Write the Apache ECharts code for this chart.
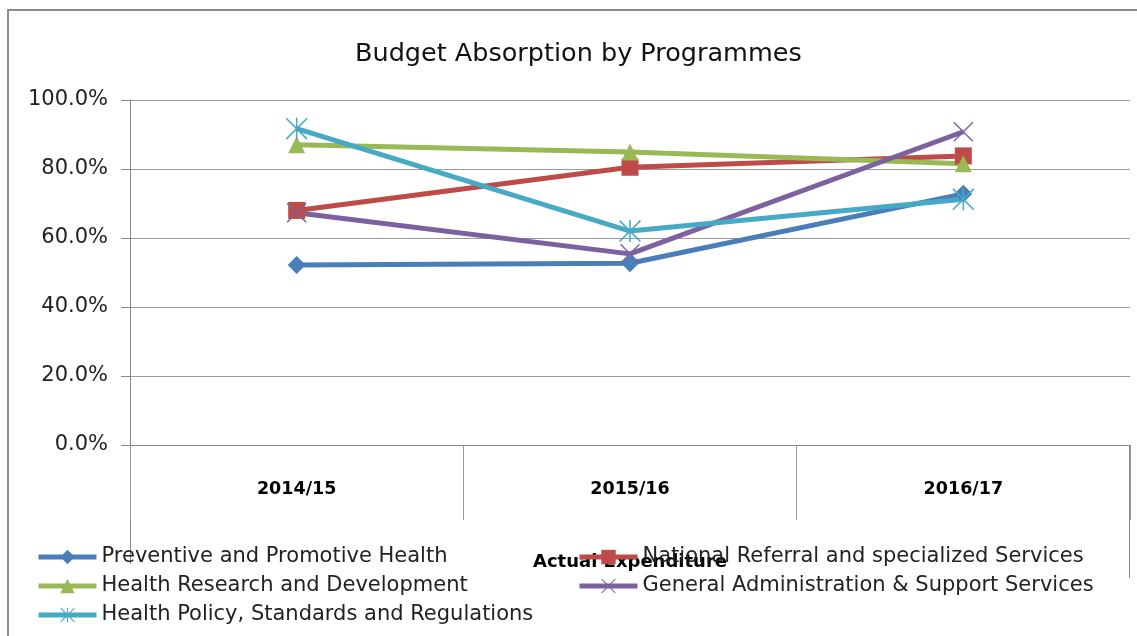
<!DOCTYPE html>
<html>
<head>
<meta charset="utf-8">
<script src="https://cdn.jsdelivr.net/npm/echarts@6/dist/echarts.min.js"></script>
<style>
  html, body { margin: 0; padding: 0; background: #fff; }
  #main { width: 1137px; height: 636px; }
</style>
</head>
<body>
<div id="main"></div>
<script>
var years = ['2014/15', '2015/16', '2016/17'];
var preventive = [0.522, 0.527, 0.728];
var referral = [0.680, 0.805, 0.838];
var research = [0.870, 0.849, 0.815];
var admin = [0.673, 0.554, 0.908];
var policy = [0.917, 0.620, 0.712];

var FONT = 'DejaVu Sans';
var crossPath = 'path://M0,1 L1,0 L20,19 L19,20 Z M19,0 L20,1 L1,20 L0,19 Z';
var starPath = 'path://M9.3,0 L10.7,0 L10.7,20 L9.3,20 Z M0,1 L1,0 L20,19 L19,20 Z M19,0 L20,1 L1,20 L0,19 Z';

function line(name, data, color, symbol, size) {
    return {
        name: name,
        type: 'line',
        data: data,
        symbol: symbol,
        symbolSize: size,
        color: color,
        lineStyle: { width: 5, color: color },
        itemStyle: { color: color },
        emphasis: { disabled: true }
    };
}

var legendBase = {
    orient: 'vertical',
    top: 545,
    padding: 0,
    itemWidth: 58,
    itemHeight: 18,
    itemGap: 5,
    lineStyle: { width: 5 },
    textStyle: { fontFamily: FONT, fontSize: 21, color: '#222', lineHeight: 24 }
};

var myChart = echarts.init(document.getElementById('main'));
var option = {
    animation: false,
    textStyle: { fontFamily: FONT },
    title: {
        text: 'Budget Absorption by Programmes',
        left: 350,
        top: 36,
        textStyle: { fontFamily: FONT, fontSize: 25.5, fontWeight: 'normal', color: '#111' }
    },
    grid: { left: 130, right: 7, top: 100, bottom: 191 },
    legend: [
        Object.assign({}, legendBase, {
            left: 36,
            data: ['Preventive and Promotive Health', 'Health Research and Development', 'Health Policy, Standards and Regulations']
        }),
        Object.assign({}, legendBase, {
            left: 577,
            data: ['National Referral and specialized Services', 'General Administration & Support Services']
        })
    ],
    xAxis: {
        type: 'category',
        data: years,
        boundaryGap: true,
        name: 'Actual Expenditure',
        nameLocation: 'middle',
        nameGap: 108,
        nameTextStyle: { fontFamily: FONT, fontSize: 18, fontWeight: 'bold', color: '#000' },
        axisLine: { lineStyle: { color: '#888', width: 1 } },
        axisTick: { show: true, length: 75, lineStyle: { color: '#999' } },
        axisLabel: { margin: 35, fontFamily: FONT, fontSize: 17.5, fontWeight: 'bold', color: '#000' },
        splitLine: { show: false }
    },
    yAxis: {
        type: 'value',
        min: 0,
        max: 1,
        interval: 0.2,
        axisLine: { show: true, lineStyle: { color: '#888', width: 1 } },
        axisTick: { show: true, length: 9, lineStyle: { color: '#888' } },
        axisLabel: {
            margin: 22,
            fontFamily: FONT,
            fontSize: 21,
            color: '#222',
            formatter: function (v) { return (v * 100).toFixed(1) + '%'; }
        },
        splitLine: { lineStyle: { color: '#999', width: 1 } }
    },
    graphic: [
        { type: 'rect', shape: { x: 8, y: 10, width: 1200, height: 700 }, style: { fill: 'none', stroke: '#8c8c8c', lineWidth: 2 }, silent: true },
        { type: 'line', shape: { x1: 130.5, y1: 445, x2: 130.5, y2: 564 }, style: { stroke: '#888', lineWidth: 1 }, silent: true },
        { type: 'line', shape: { x1: 1129.5, y1: 445, x2: 1129.5, y2: 578 }, style: { stroke: '#888', lineWidth: 1 }, silent: true }
    ],
    series: [
        line('Preventive and Promotive Health', preventive, '#4A7EBB', 'diamond', 18),
        line('National Referral and specialized Services', referral, '#BE4B48', 'rect', 17),
        line('Health Research and Development', research, '#98B954', 'triangle', 17),
        line('General Administration & Support Services', admin, '#7D60A0', crossPath, 20),
        line('Health Policy, Standards and Regulations', policy, '#46AAC5', starPath, 22)
    ]
};

myChart.setOption(option);
</script>
</body>
</html>
